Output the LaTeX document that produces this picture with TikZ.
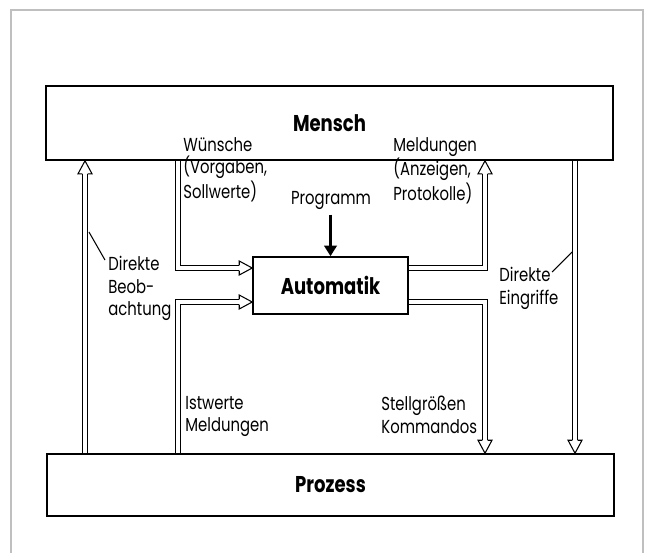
\documentclass[tikz,border=0pt]{standalone}
\usepackage{fontspec}
\setmainfont{Poppins}[FakeStretch=0.79]
\usetikzlibrary{arrows.meta}

\tikzset{
  box/.style={draw, line width=0.9pt, inner sep=0pt, font=\fontsize{13}{15}\selectfont\bfseries},
  lbl/.style={align=left, inner sep=0pt, anchor=north west, font=\fontsize{10.7}{12.8}\selectfont},
  hollow/.style={double, line width=0.6pt, double distance=2.3pt, line join=miter, shorten >=7.4pt},
  hhead/.pic={\draw[line width=0.6pt, fill=white, line join=miter] (-13,2.6) -- (-13,7) -- (0,0) -- (-13,-7) -- (-13,-2.6);}
}

\begin{document}
\begin{tikzpicture}[x=0.02cm, y=-0.02cm]
    \useasboundingbox (0,0) rectangle (655,552);
    \draw[black!25, line width=1.2pt] (11,570) -- (11,10) -- (643,10) -- (643,570);

    % die drei Kaesten
    \node[box, minimum width=11.34cm, minimum height=1.48cm] (mensch) at (329.5,123) {Mensch};
    \node[box, minimum width=11.34cm, minimum height=1.24cm] (prozess) at (330.5,485) {Prozess};
    \node[box, minimum width=3.1cm, minimum height=1.14cm] (auto) at (330.5,285.5) {Automatik};

    % Lagen der Pfeile
    \coordinate (xbeob) at (85,0);
    \coordinate (xsoll) at (178,0);
    \coordinate (xmeld) at (485,0);
    \coordinate (xeingr) at (575,0);
    \coordinate (yoben) at (0,268);
    \coordinate (yunten) at (0,302);

    \draw[hollow] (prozess.north -| xbeob) -- (mensch.south -| xbeob);
    \pic[rotate=90] at (mensch.south -| xbeob) {hhead};
    \draw[hollow] (mensch.south -| xsoll) |- (auto.west |- yoben);
    \pic at (auto.west |- yoben) {hhead};
    \draw[hollow] (prozess.north -| xsoll) |- (auto.west |- yunten);
    \pic at (auto.west |- yunten) {hhead};
    \draw[hollow] (auto.east |- yoben) -| (mensch.south -| xmeld);
    \pic[rotate=90] at (mensch.south -| xmeld) {hhead};
    \draw[hollow] (auto.east |- yunten) -| (prozess.north -| xmeld);
    \pic[rotate=-90] at (prozess.north -| xmeld) {hhead};
    \draw[hollow] (mensch.south -| xeingr) -- (prozess.north -| xeingr);
    \pic[rotate=-90] at (prozess.north -| xeingr) {hhead};

    % Programm
    \node[lbl, anchor=center] (prog) at (331,200) {Programm};
    \draw[line width=2.2pt, -{Triangle[length=6pt, width=7pt]}, shorten <=3pt] (prog.south -| auto.north) -- (auto.north);

    % Beschriftungen
    \node[lbl] (wun) at (183,137) {Wünsche\\(Vorgaben,\\Sollwerte)};
    \node[lbl] (meld) at (393,137) {Meldungen\\(Anzeigen,\\Protokolle)};
    \node[lbl] (beob) at (108,256) {Direkte\\Beob-\\achtung};
    \node[lbl] (eingr) at (499,267) {Direkte\\Eingriffe};
    \node[lbl] (ist) at (185,396) {Istwerte\\Meldungen};
    \node[lbl] (stell) at (381,396) {Stellgrößen\\Kommandos};

    \coordinate (beobtip) at (89,232);
    \draw[line width=0.6pt] (beobtip) -- ([shift={(-3,4)}]beob.north west);
    \coordinate (eingrtip) at (572,252);
    \draw[line width=0.6pt] (eingrtip) -- ([shift={(53,5)}]eingr.north west);
\end{tikzpicture}
\end{document}
